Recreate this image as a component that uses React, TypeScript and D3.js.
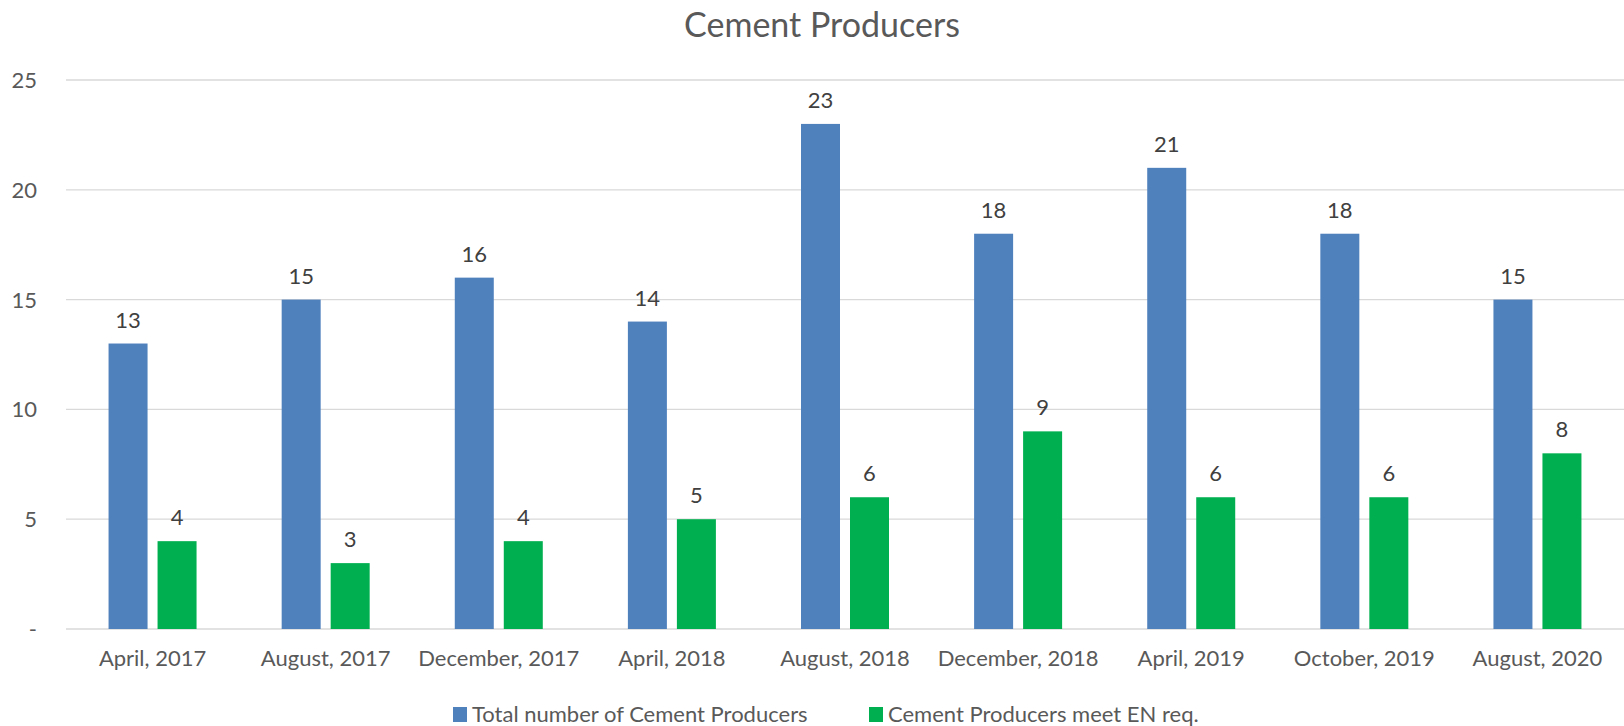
import React, { useEffect, useRef } from 'react';
import * as d3 from 'd3';

const categories = [
  'April, 2017', 'August, 2017', 'December, 2017', 'April, 2018', 'August, 2018',
  'December, 2018', 'April, 2019', 'October, 2019', 'August, 2020',
];
const totalProducers = [13, 15, 16, 14, 23, 18, 21, 18, 15];
const meetEN = [4, 3, 4, 5, 6, 9, 6, 6, 8];
const seriesNames = ['Total number of Cement Producers', 'Cement Producers meet EN req.'];
const seriesColors = ['#4f81bd', '#00b050'];
const yTicks = [0, 5, 10, 15, 20, 25];

const W = 1624;
const H = 726;
const FONT = 'Lato, "Open Sans", sans-serif';

const App: React.FC = () => {
  const svgRef = useRef<SVGSVGElement>(null);

  useEffect(() => {
    if (!svgRef.current) return;
    const svg = d3.select(svgRef.current);
    svg.selectAll('*').remove();

    const margin = { top: 80, right: 0, bottom: 97, left: 66 };
    const innerW = W - margin.left - margin.right;
    const innerH = H - margin.top - margin.bottom;

    const x = d3.scaleBand<string>().domain(categories).range([0, innerW]).paddingInner(0).paddingOuter(0);
    const y = d3.scaleLinear().domain([0, 25]).range([innerH, 0]);

    const barW = 39;
    const gap = 10;
    const groupOffset = (x.bandwidth() - (barW * 2 + gap)) / 2;

    svg.append('text')
      .attr('x', 822)
      .attr('y', 37)
      .attr('text-anchor', 'middle')
      .attr('font-family', FONT)
      .attr('font-size', 34)
      .attr('fill', '#595959')
      .text('Cement Producers');

    const g = svg.append('g').attr('transform', `translate(${margin.left},${margin.top})`);

    // gridlines
    g.selectAll('.grid')
      .data(yTicks)
      .enter()
      .append('line')
      .attr('x1', 0)
      .attr('x2', innerW)
      .attr('y1', (d) => y(d))
      .attr('y2', (d) => y(d))
      .attr('stroke', '#d9d9d9')
      .attr('stroke-width', 1.3);

    // y labels
    g.selectAll('.ylab')
      .data(yTicks)
      .enter()
      .append('text')
      .attr('x', -29)
      .attr('y', (d) => y(d) + 8)
      .attr('text-anchor', 'end')
      .attr('font-family', FONT)
      .attr('font-size', 22)
      .attr('fill', '#595959')
      .text((d) => (d === 0 ? '-' : String(d)));

    const series = [totalProducers, meetEN];
    series.forEach((vals, si) => {
      const bx = (i: number) => (x(categories[i]) as number) + groupOffset + si * (barW + gap);
      g.selectAll(`.bar${si}`)
        .data(vals)
        .enter()
        .append('rect')
        .attr('x', (_, i) => bx(i))
        .attr('y', (d) => y(d))
        .attr('width', barW)
        .attr('height', (d) => innerH - y(d))
        .attr('fill', seriesColors[si]);

      g.selectAll(`.lab${si}`)
        .data(vals)
        .enter()
        .append('text')
        .attr('x', (_, i) => bx(i) + barW / 2)
        .attr('y', (d) => y(d) - 16)
        .attr('text-anchor', 'middle')
        .attr('font-family', FONT)
        .attr('font-size', 22)
        .attr('fill', '#404040')
        .text((d) => String(d));
    });

    // x labels
    g.selectAll('.xlab')
      .data(categories)
      .enter()
      .append('text')
      .attr('x', (d) => (x(d) as number) + x.bandwidth() / 2)
      .attr('y', innerH + 37)
      .attr('text-anchor', 'middle')
      .attr('font-family', FONT)
      .attr('font-size', 22)
      .attr('fill', '#595959')
      .text((d) => d);

    // legend
    const legendX = [453, 869];
    seriesNames.forEach((name, i) => {
      svg.append('rect')
        .attr('x', legendX[i])
        .attr('y', 707)
        .attr('width', 14)
        .attr('height', 15)
        .attr('fill', seriesColors[i]);
      svg.append('text')
        .attr('x', legendX[i] + 19)
        .attr('y', 722)
        .attr('font-family', FONT)
        .attr('font-size', 22)
        .attr('fill', '#595959')
        .text(name);
    });
  }, []);

  return (
    <svg ref={svgRef} width={W} height={H} style={{ display: 'block', position: 'absolute', left: 0, top: 0, background: '#fff' }} />
  );
};

export default App;
